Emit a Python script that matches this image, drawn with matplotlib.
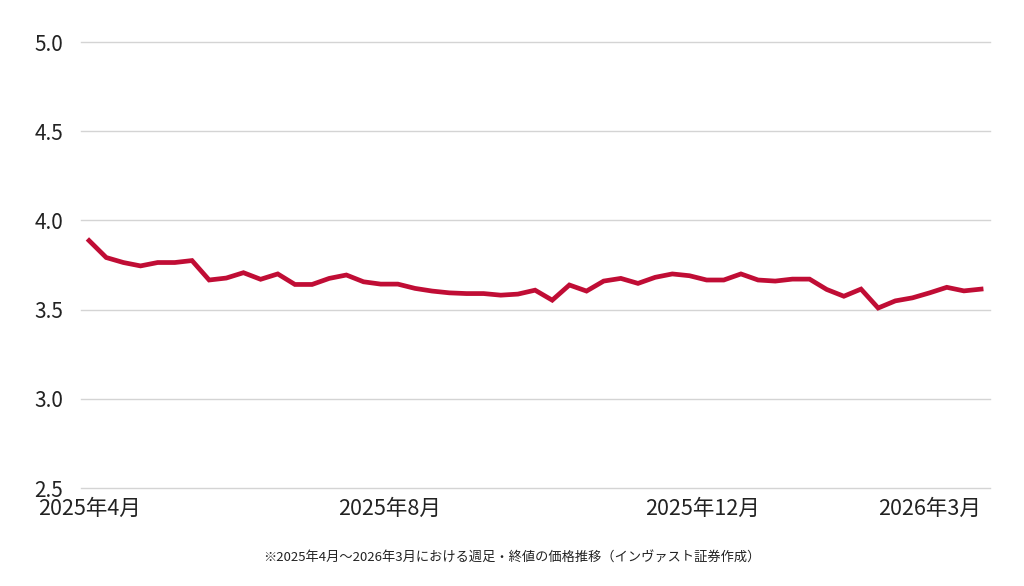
import matplotlib
matplotlib.use("Agg")
import matplotlib.pyplot as plt

plt.rcParams['font.family'] = ['Noto Sans CJK JP', 'DejaVu Sans']

LINE_COLOR = "#C00D35"
GRID_COLOR = "#d4d4d4"

# weekly closing prices, 2025/4 - 2026/3
prices = [
    3.887, 3.792, 3.764, 3.745, 3.764, 3.764, 3.775, 3.666, 3.677, 3.707,
    3.670, 3.700, 3.641, 3.641, 3.675, 3.694, 3.656, 3.643, 3.643, 3.619,
    3.604, 3.594, 3.590, 3.590, 3.581, 3.587, 3.609, 3.553, 3.638, 3.604,
    3.660, 3.675, 3.647, 3.681, 3.700, 3.690, 3.666, 3.666, 3.700, 3.666,
    3.660, 3.671, 3.671, 3.613, 3.575, 3.615, 3.509, 3.549, 3.566, 3.594,
    3.625, 3.605, 3.615,
]
weeks = list(range(len(prices)))

tick_weeks = [0, 17.5, 35.75, 49]
tick_labels = ["2025年4月", "2025年8月", "2025年12月", "2026年3月"]
y_ticks = [2.5, 3.0, 3.5, 4.0, 4.5, 5.0]

caption = "※2025年4月～2026年3月における週足・終値の価格推移（インヴァスト証券作成）"

fig = plt.figure(figsize=(10.24, 5.86), dpi=100)
ax = fig.add_axes([0.0791, 0.1672, 0.8877, 0.7611])

ax.plot(weeks, prices, color=LINE_COLOR, linewidth=3.4, solid_joinstyle='miter', zorder=3)

ax.set_ylim(2.5, 5.0)
ax.set_xlim(-0.47, len(prices) - 1 + 0.52)
ax.set_yticks(y_ticks)
ax.set_yticklabels([f"{v:.1f}" for v in y_ticks])
ax.set_xticks(tick_weeks)
ax.set_xticklabels(tick_labels)

ax.grid(axis='y', color=GRID_COLOR, linewidth=1.0)
for gl in ax.get_ygridlines():
    gl.set_clip_on(False)
ax.set_axisbelow(True)
for s in ax.spines.values():
    s.set_visible(False)

ax.tick_params(axis='y', length=0, pad=13, labelsize=15, labelcolor="#222222")
ax.tick_params(axis='x', length=0, pad=7, labelsize=15.5, labelcolor="#222222")

fig.text(0.5, 0.047, caption, ha='center', va='center', fontsize=9.5, color="#222222")

fig.savefig("out.png", dpi=100)
